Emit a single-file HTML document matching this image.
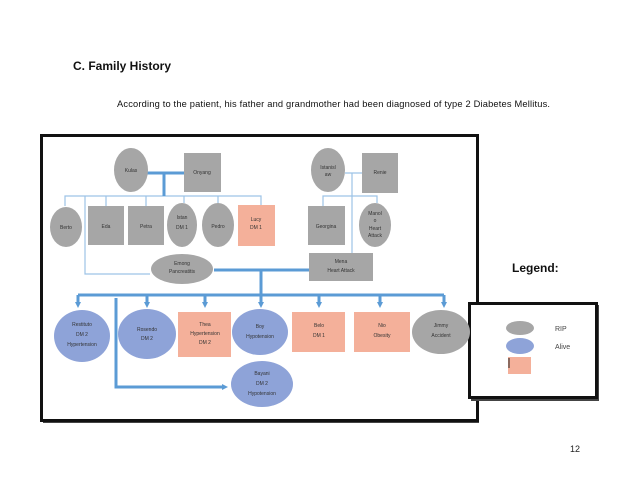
<!DOCTYPE html>
<html><head><meta charset="utf-8"><style>
body{margin:0;background:#fff;}
svg{display:block}
text{font-family:"Liberation Sans",sans-serif;}
</style></head><body>
<svg width="638" height="493" viewBox="0 0 638 493" xmlns="http://www.w3.org/2000/svg">
<defs>
<marker id="a" markerWidth="6" markerHeight="6" refX="3" refY="3" orient="auto" markerUnits="userSpaceOnUse"><path d="M0,0 L6,3 L0,6z" fill="#5b9bd5"/></marker>
</defs>
<text x="73" y="70" font-size="12" font-weight="bold" fill="#111">C. Family History</text>
<text x="117" y="107" font-size="9.3" fill="#111" textLength="433">According to the patient, his father and grandmother had been diagnosed of type 2 Diabetes Mellitus.</text>
<text x="512" y="272" font-size="12" font-weight="bold" fill="#111">Legend:</text>
<text x="570" y="452" font-size="9" fill="#222" font-family="Liberation Serif">12</text>
<!-- main frame -->
<rect x="43" y="137" width="436" height="286" fill="#444"/>
<rect x="41.5" y="135.5" width="436" height="285" fill="#fff" stroke="#111" stroke-width="3"/>
<!-- legend frame -->
<rect x="471" y="305" width="128" height="96" fill="#444"/>
<rect x="469.5" y="303.5" width="127" height="94" fill="#fff" stroke="#111" stroke-width="3"/>
<ellipse cx="520" cy="328" rx="14" ry="7" fill="#a6a6a6"/>
<ellipse cx="520" cy="346" rx="14" ry="8" fill="#8ea3d8"/>
<rect x="508" y="357" width="23" height="17" fill="#f4b09a"/>
<line x1="509" y1="358" x2="509" y2="368" stroke="#222" stroke-width="1"/>
<text x="555" y="331" font-size="7" fill="#444">RIP</text>
<text x="555" y="349" font-size="7" fill="#444">Alive</text>

<g fill="none">
<!-- thin lines -->
<g stroke="#9dc3e6" stroke-width="1.2">
<polyline points="65,206 65,196 261,196 261,205"/>
<line x1="106" y1="196" x2="106" y2="206"/><line x1="146" y1="196" x2="146" y2="206"/>
<line x1="184" y1="196" x2="184" y2="203"/><line x1="218" y1="196" x2="218" y2="203"/>
<polyline points="85,196 85,274 150,274"/>
<line x1="345" y1="173" x2="362" y2="173"/>
<line x1="352" y1="173" x2="352" y2="253"/>
<polyline points="323,206 323,196 377,196 377,203"/>
</g>
<g stroke="#5b9bd5" stroke-width="3">
<line x1="147" y1="173" x2="184" y2="173"/>
<line x1="164" y1="173" x2="164" y2="196"/>
<line x1="214" y1="270" x2="309" y2="270"/>
<line x1="261" y1="270" x2="261" y2="295"/>
<line x1="78" y1="295" x2="444" y2="295"/>
<polyline points="116,298 116,387 225,387" marker-end="url(#a)"/>
</g>
<g stroke="#5b9bd5" stroke-width="3" marker-end="url(#a)">
<line x1="78" y1="295" x2="78" y2="305"/><line x1="147" y1="295" x2="147" y2="305"/>
<line x1="205" y1="295" x2="205" y2="305"/><line x1="261" y1="295" x2="261" y2="305"/>
<line x1="319" y1="295" x2="319" y2="305"/><line x1="380" y1="295" x2="380" y2="305"/>
<line x1="444" y1="295" x2="444" y2="305"/>
</g>
</g>

<g fill="#a6a6a6">
<ellipse cx="131" cy="170" rx="17" ry="22"/>
<rect x="184" y="153" width="37" height="39"/>
<ellipse cx="66" cy="227" rx="16" ry="20"/>
<rect x="88" y="206" width="36" height="39"/>
<rect x="128" y="206" width="36" height="39"/>
<ellipse cx="182" cy="225" rx="15" ry="22"/>
<ellipse cx="218" cy="225" rx="16" ry="22"/>
<ellipse cx="328" cy="170" rx="17" ry="22"/>
<rect x="362" y="153" width="36" height="40"/>
<rect x="308" y="206" width="37" height="39"/>
<ellipse cx="375" cy="225" rx="16" ry="22"/>
<ellipse cx="182" cy="269" rx="31" ry="15"/>
<rect x="309" y="253" width="64" height="28"/>
<ellipse cx="441" cy="332" rx="29" ry="22"/>
</g>
<rect x="238" y="205" width="37" height="41" fill="#f4b09a"/>
<g fill="#8ea3d8">
<ellipse cx="82" cy="336" rx="28" ry="26"/>
<ellipse cx="147" cy="334" rx="29" ry="25"/>
<ellipse cx="260" cy="332" rx="28" ry="23"/>
<ellipse cx="262" cy="384" rx="31" ry="23"/>
</g>
<g fill="#f4b09a">
<rect x="178" y="312" width="53" height="45"/>
<rect x="292" y="312" width="53" height="40"/>
<rect x="354" y="312" width="56" height="40"/>
</g>

<g font-size="5" fill="#333" text-anchor="middle">
<text x="131" y="172">Kulas</text>
<text x="202" y="174">Onyang</text>
<text x="328" y="169">Istanisl</text><text x="328" y="176">aw</text>
<text x="380" y="174">Renie</text>
<text x="66" y="229">Berto</text>
<text x="106" y="228">Eda</text>
<text x="146" y="228">Petra</text>
<text x="182" y="219">Istan</text><text x="182" y="229">DM 1</text>
<text x="218" y="228">Pedro</text>
<text x="256" y="221">Lucy</text><text x="256" y="229">DM 1</text>
<text x="326" y="228">Georgina</text>
<text x="375" y="215">Manol</text><text x="375" y="222">o</text><text x="375" y="230">Heart</text><text x="375" y="237">Attack</text>
<text x="182" y="265">Emong</text><text x="182" y="273">Pancreatitis</text>
<text x="341" y="263">Mena</text><text x="341" y="272">Heart Attack</text>
<text x="82" y="326">Restituto</text><text x="82" y="336">DM 2</text><text x="82" y="346">Hypertension</text>
<text x="147" y="331">Rosendo</text><text x="147" y="340">DM 2</text>
<text x="205" y="326">Thea</text><text x="205" y="335">Hypertension</text><text x="205" y="344">DM 2</text>
<text x="260" y="328">Boy</text><text x="260" y="338">Hypotension</text>
<text x="319" y="327">Belo</text><text x="319" y="337">DM 1</text>
<text x="382" y="327">Nio</text><text x="382" y="337">Obesity</text>
<text x="441" y="327">Jimmy</text><text x="441" y="337">Accident</text>
<text x="262" y="375">Bayani</text><text x="262" y="385">DM 2</text><text x="262" y="395">Hypotension</text>
</g>
</svg>
</body></html>
